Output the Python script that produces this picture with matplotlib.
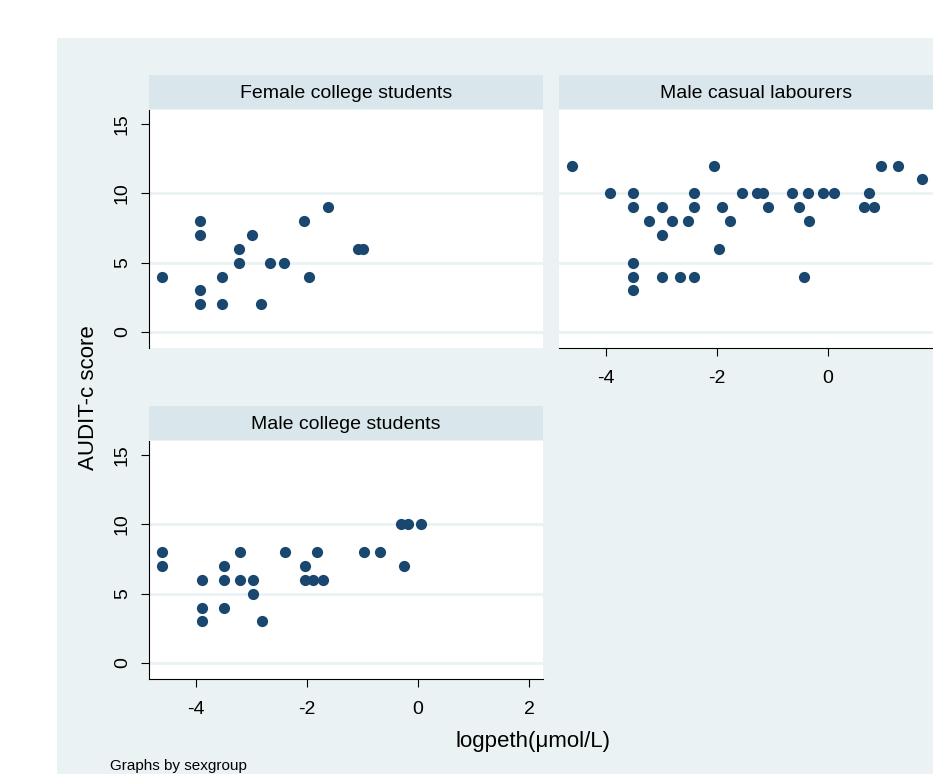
import numpy as np
import matplotlib.pyplot as plt
from matplotlib.patches import Rectangle

plt.rcParams['font.family'] = ['Liberation Sans', 'DejaVu Sans']
plt.rcParams['axes.unicode_minus'] = False

# Female college students
fem_x = [-4.61, -3.93, -3.93, -3.93, -3.93, -3.53, -3.53, -3.23, -3.23, -3.0,
         -2.83, -2.67, -2.41, -2.05, -1.96, -1.62, -1.09, -1.0]
fem_y = [4, 8, 7, 3, 2, 4, 2, 6, 5, 7, 2, 5, 5, 8, 4, 9, 6, 6]

# Male casual labourers
lab_x = [-4.61, -3.93, -3.51, -3.51, -3.51, -3.51, -3.51, -3.22, -2.99, -2.99,
         -2.99, -2.81, -2.67, -2.52, -2.42, -2.42, -2.42, -2.05, -1.97, -1.91,
         -1.77, -1.56, -1.29, -1.17, -1.08, -0.66, -0.52, -0.44, -0.37, -0.35,
         -0.09, 0.11, 0.64, 0.73, 0.83, 0.95, 1.26, 1.69]
lab_y = [12, 10, 10, 9, 5, 4, 3, 8, 9, 7,
         4, 8, 4, 8, 10, 9, 4, 12, 6, 9,
         8, 10, 10, 10, 9, 10, 9, 4, 10, 8,
         10, 10, 9, 10, 9, 12, 12, 11]

# Male college students
mcs_x = [-4.61, -4.61, -3.9, -3.9, -3.9, -3.5, -3.5, -3.5, -3.21, -3.21,
         -2.98, -2.98, -2.81, -2.4, -2.04, -2.04, -1.9, -1.82, -1.71, -0.98,
         -0.69, -0.3, -0.19, 0.05, -0.25]
mcs_y = [8, 7, 6, 4, 3, 7, 6, 4, 8, 6,
         6, 5, 3, 8, 7, 6, 6, 8, 6, 8,
         8, 10, 10, 10, 7]

bg = '#eaf2f3'
strip = '#d9e6eb'
navy = '#1a476f'

fig = plt.figure(figsize=(9.33, 7.74), dpi=100)
fig.patch.set_facecolor('white')
fig.patches.append(Rectangle((57 / 933, 0), 1, 1 - 38 / 774, transform=fig.transFigure,
                             facecolor=bg, edgecolor='none', zorder=-5))

W, H = 933, 774
pw, ph = 394 / W, 238 / H

def panel(left_px, top_px, xs, ys, title, show_x, show_y, xticks):
    ax = fig.add_axes([left_px / W, 1 - (top_px / H) - ph, pw, ph])
    ax.set_facecolor('white')
    ax.scatter(xs, ys, s=65, color=navy, linewidths=0, zorder=3)
    ax.set_xlim(-4.85, 2.25)
    ax.set_ylim(-1.15, 16)
    for v in [0, 5, 10]:
        ax.axhline(v, color=bg, lw=2, zorder=1)
    for s in ['top', 'right']:
        ax.spines[s].set_visible(False)
    ax.spines['left'].set_visible(show_y)
    ax.spines['bottom'].set_visible(show_x)
    ax.set_xticks(xticks)
    ax.set_yticks([0, 5, 10, 15])
    ax.tick_params(axis='x', bottom=show_x, labelbottom=show_x, labelsize=14,
                   length=6, direction='out', pad=10)
    ax.tick_params(axis='y', left=show_y, labelleft=show_y, labelsize=14,
                   length=6, direction='out', pad=7)
    if show_y:
        for lab in ax.get_yticklabels():
            lab.set_rotation(90)
            lab.set_va('center')
    ax.add_patch(Rectangle((0, 1.006), 1, 34 / 238, transform=ax.transAxes,
                           facecolor=strip, edgecolor='none', clip_on=False))
    ax.text(0.5, 1.006 + 15 / 238, title, transform=ax.transAxes, ha='center',
            va='center', fontsize=14)
    return ax

panel(149, 110, fem_x, fem_y, 'Female college students', False, True, [-4, -2, 0, 2])
panel(559, 110, lab_x, lab_y, 'Male casual labourers', True, False, [-4, -2, 0])
panel(149, 441, mcs_x, mcs_y, 'Male college students', True, True, [-4, -2, 0, 2])

fig.text(88 / W, 1 - 398 / H, 'AUDIT-c score', rotation=90, ha='center', va='center', fontsize=16)
fig.text(533 / W, 1 - 741 / H, 'logpeth(μmol/L)', ha='center', va='center', fontsize=16)
fig.text(110 / W, 1 - 766 / H, 'Graphs by sexgroup', ha='left', va='center', fontsize=11)

fig.savefig('out.png', dpi=100)
